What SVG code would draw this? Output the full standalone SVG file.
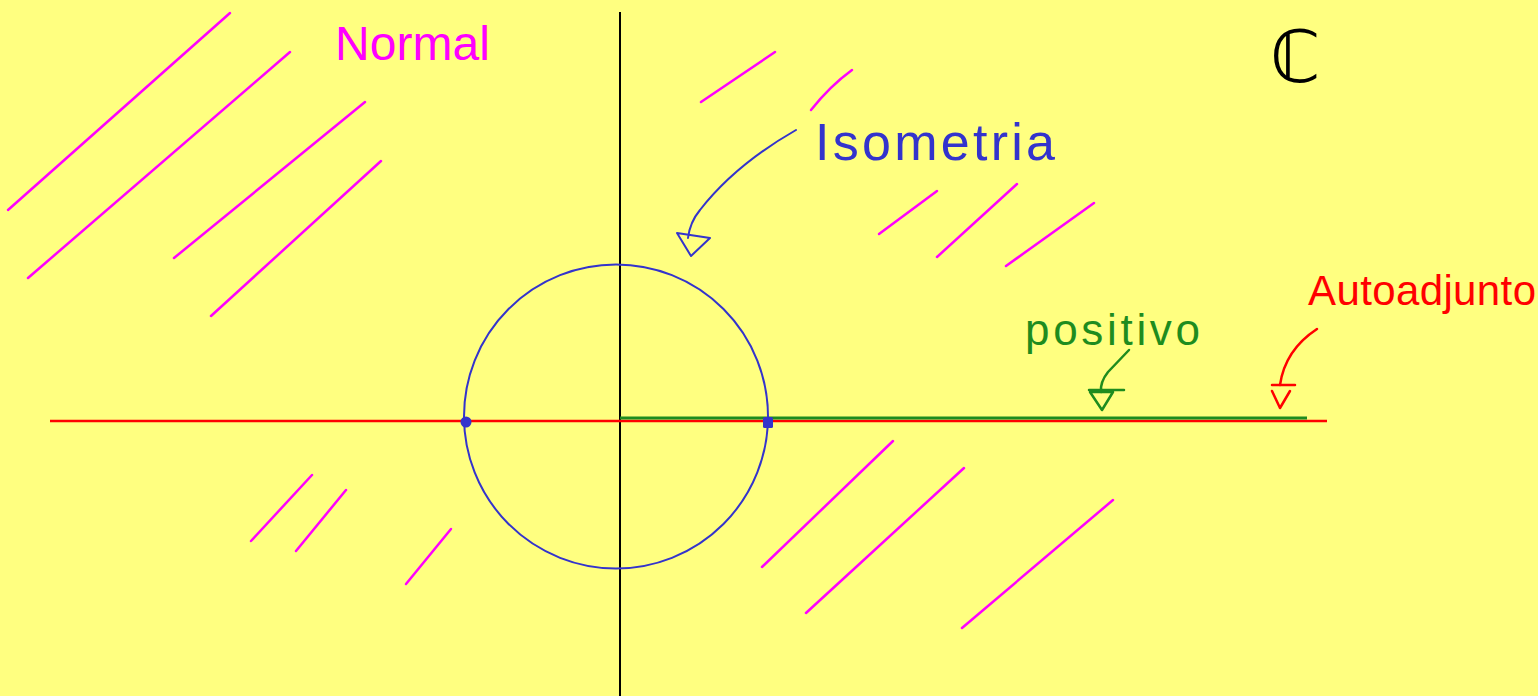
<svg xmlns="http://www.w3.org/2000/svg" width="1538" height="696" viewBox="0 0 1538 696">
<style>
.hatch{stroke:#FF00FF;stroke-width:2.5;stroke-linecap:round;fill:none}
.lbl{font-family:"Liberation Sans",sans-serif;}
</style>
<rect width="1538" height="696" fill="#FFFF80"/>
<g id="hatching" class="hatch">
<line x1="8" y1="210" x2="230" y2="13"/>
<line x1="28" y1="278" x2="290" y2="52"/>
<line x1="174" y1="258" x2="365" y2="102"/>
<line x1="211" y1="316" x2="381" y2="161"/>
<line x1="701" y1="102" x2="775" y2="52"/>
<path d="M811 110 Q830 86 852 70"/>
<line x1="879" y1="234" x2="937" y2="191"/>
<line x1="937" y1="257" x2="1017" y2="184"/>
<line x1="1006" y1="266" x2="1094" y2="203"/>
<line x1="251" y1="541" x2="312" y2="475"/>
<line x1="296" y1="551" x2="346" y2="490"/>
<line x1="406" y1="584" x2="451" y2="529"/>
<line x1="762" y1="567" x2="893" y2="441"/>
<line x1="806" y1="613" x2="964" y2="468"/>
<line x1="962" y1="628" x2="1113" y2="500"/>
</g>
<g id="axes">
<line x1="620" y1="12" x2="620" y2="696" stroke="#000" stroke-width="2"/>
<line x1="50" y1="421" x2="1327" y2="421" stroke="#FF0000" stroke-width="2.5"/>
<line x1="620" y1="418" x2="1307" y2="418" stroke="#1E8C1E" stroke-width="3"/>
</g>
<g id="circle">
<circle cx="616" cy="416.5" r="152" fill="none" stroke="#3333CC" stroke-width="2"/>
<circle cx="466" cy="422" r="5.5" fill="#3333CC"/>
<rect x="763" y="417" width="10" height="11" rx="1.5" fill="#3333CC"/>
</g>
<g id="connectors" fill="none" stroke-linecap="round" stroke-linejoin="round">
<path d="M796 130 Q735 165 700 210 Q690 222 688 238" stroke="#3333CC" stroke-width="2"/>
<path d="M677 233 L710 238 L691 256 Z" stroke="#3333CC" stroke-width="2"/>
<path d="M1129 350 L1108 372 Q1100 382 1101 392" stroke="#1E8C1E" stroke-width="2.5"/>
<path d="M1089 390 L1124 390 M1090 392 L1113 392 L1102 410 Z" stroke="#1E8C1E" stroke-width="2.5"/>
<path d="M1317 329 Q1285 350 1280 385" stroke="#FF0000" stroke-width="2.5"/>
<path d="M1272 385 L1295 385 M1272 391 L1280 408 L1290 391" stroke="#FF0000" stroke-width="2.5"/>
</g>
<g id="label-normal"><text class="lbl" x="335" y="60" font-size="48" fill="#FF00FF" textLength="155" lengthAdjust="spacing">Normal</text></g>
<g id="label-isometria"><text class="lbl" x="815" y="160" font-size="52" fill="#3333CC" textLength="240" lengthAdjust="spacing">Isometria</text></g>
<g id="label-positivo"><text class="lbl" x="1025" y="345" font-size="44" fill="#1E8C1E" textLength="175" lengthAdjust="spacing">positivo</text></g>
<g id="label-autoadjunto"><text class="lbl" x="1308" y="305" font-size="42" fill="#FF0000" textLength="228" lengthAdjust="spacing">Autoadjunto</text></g>
<g id="label-C"><text x="1270" y="82" font-family="DejaVu Sans,sans-serif" font-size="72" fill="#000">ℂ</text></g>
</svg>
